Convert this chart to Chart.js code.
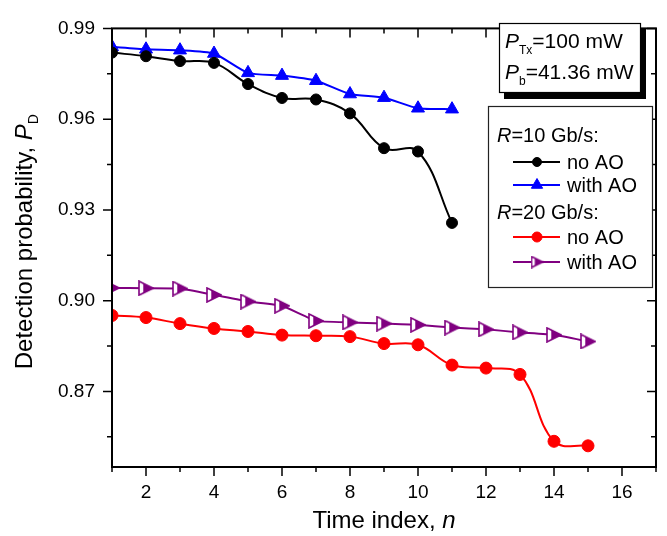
<!DOCTYPE html>
<html><head><meta charset="utf-8">
<script src="https://cdn.jsdelivr.net/npm/chart.js@4.4.1/dist/chart.umd.min.js"></script>
<style>html,body{margin:0;padding:0;background:#fff}canvas{display:block}</style>
</head><body>
<canvas id="c" width="667" height="536"></canvas>
<script>
// ---- data ----
const timeIndex10 = [1,2,3,4,5,6,7,8,9,10,11];
const timeIndex20 = [1,2,3,4,5,6,7,8,9,10,11,12,13,14,15];
const r10NoAO   = [0.9820,0.9808,0.9792,0.9786,0.9716,0.9670,0.9665,0.9619,0.9504,0.9493,0.9257];
const r10WithAO = [0.9839,0.9831,0.9828,0.9817,0.9753,0.9744,0.9727,0.9683,0.9671,0.9636,0.9633];
const r20NoAO   = [0.8951,0.8944,0.8924,0.8908,0.8898,0.8886,0.8884,0.8881,0.8858,0.8854,0.8787,0.8777,0.8756,0.8535,0.8520];
const r20WithAO = [0.9042,0.9041,0.9040,0.9019,0.8997,0.8983,0.8933,0.8928,0.8924,0.8920,0.8911,0.8905,0.8895,0.8887,0.8865];
const xTickLabels = [2,4,6,8,10,12,14,16];
const yTickLabels = [0.87,0.90,0.93,0.96,0.99];
const xRange = [1,17];
const yRange = [0.845,0.99];
const xTitle = ["Time index, ", "n"];
const yTitle = ["Detection probability, ", "P", "D"];
const infoLines = [["P","Tx","=100 mW"],["P","b","=41.36 mW"]];
const legendHeaders = ["10 Gb/s:", "20 Gb/s:"];
const seriesNames = ["no AO","with AO","no AO","with AO"];

const FONT = 'Arial, "Liberation Sans", sans-serif';
const BLACK='#000000', BLUE='#0000ff', RED='#ff0000', PURPLE='#800080';

function halfTri(size, color){
  const c=document.createElement('canvas'); c.width=c.height=size;
  const g=c.getContext('2d'); const m=1, s=size;
  g.beginPath(); g.moveTo(m,m); g.lineTo(m,s-m); g.lineTo(s-m,s/2); g.closePath();
  g.fillStyle='#fff'; g.fill();
  g.save(); g.clip(); g.fillStyle=color; g.fillRect(s*0.33,0,s,s); g.restore();
  g.strokeStyle=color; g.lineWidth=1.6; g.lineJoin='miter'; g.stroke();
  return c;
}
const purpleMarker = halfTri(16, PURPLE);
const purpleMarkerSmall = halfTri(13, PURPLE);

const pts = (xs, ys) => xs.map((x,i)=>({x, y:ys[i]}));

const datasets = [
  {label:seriesNames[0], data:pts(timeIndex10,r10NoAO), borderColor:BLACK, backgroundColor:BLACK,
   pointStyle:'circle', pointRadius:5.5, pointBorderWidth:1, tension:0.4, borderWidth:2},
  {label:seriesNames[1], data:pts(timeIndex10,r10WithAO), borderColor:BLUE, backgroundColor:BLUE,
   pointStyle:'triangle', pointRadius:7.5, pointBorderWidth:1, tension:0.2, borderWidth:2},
  {label:seriesNames[2], data:pts(timeIndex20,r20NoAO), borderColor:RED, backgroundColor:RED,
   pointStyle:'circle', pointRadius:6, pointBorderWidth:1, tension:0.4, borderWidth:2},
  {label:seriesNames[3], data:pts(timeIndex20,r20WithAO), borderColor:PURPLE, backgroundColor:PURPLE,
   pointStyle:purpleMarker, pointRadius:8, tension:0.1, borderWidth:2}
];
datasets.forEach(d=>{ d.clip=0; d.pointHoverRadius=d.pointRadius; });

function drawRich(ctx, parts, x, y, align){
  let w=0;
  parts.forEach(p=>{ ctx.font=`${p[1]} ${p[2]}px ${FONT}`; w+=ctx.measureText(p[0]).width; });
  let cx = align==='center' ? x-w/2 : x;
  parts.forEach(p=>{ ctx.font=`${p[1]} ${p[2]}px ${FONT}`; ctx.fillText(p[0], cx, y+(p[3]||0)); cx+=ctx.measureText(p[0]).width; });
}

const framePlugin = {
  id:'frame',
  afterDraw(chart){
    const {ctx, chartArea:a, scales:{x,y}} = chart;
    ctx.save();
    ctx.strokeStyle='#000'; ctx.fillStyle='#000';
    ctx.lineWidth=1.5;
    ctx.beginPath();
    for(let v=x.min; v<=x.max+1e-9; v+=1){
      const px=x.getPixelForValue(v); const L = (v%2===0)?9:5;
      ctx.moveTo(px,a.bottom); ctx.lineTo(px,a.bottom+L);
      ctx.moveTo(px,a.top); ctx.lineTo(px,a.top+L);
    }
    for(let k=0; ; k++){
      const v = 0.855 + k*0.015; if(v>y.max+1e-9) break;
      const major = (k%2===1);
      const py=y.getPixelForValue(v); const L = major?9:5;
      ctx.moveTo(a.left,py); ctx.lineTo(a.left-L,py);
      ctx.moveTo(a.right,py); ctx.lineTo(a.right-L,py);
    }
    ctx.stroke();
    ctx.lineWidth=2;
    ctx.strokeRect(a.left, a.top, a.right-a.left, a.bottom-a.top);

    ctx.textBaseline='alphabetic';
    drawRich(ctx, [[xTitle[0],'',24],[xTitle[1],'italic',24]], (a.left+a.right)/2, 528, 'center');
    ctx.save();
    ctx.translate(32, (a.top+a.bottom)/2 - 6); ctx.rotate(-Math.PI/2);
    drawRich(ctx, [[yTitle[0],'',24],[yTitle[1],'italic',24],[yTitle[2],'',14,6]], 0, 0, 'center');
    ctx.restore();

    // info box
    ctx.fillStyle='#000'; ctx.fillRect(504,28,142,71);
    ctx.fillStyle='#fff'; ctx.fillRect(499,23,142,70);
    ctx.lineWidth=1.2; ctx.strokeStyle='#000'; ctx.strokeRect(499.5,23.5,141,69);
    ctx.fillStyle='#000';
    drawRich(ctx, [[infoLines[0][0],'italic',21],[infoLines[0][1],'',12,6],[infoLines[0][2],'',21]], 505, 48, 'left');
    drawRich(ctx, [[infoLines[1][0],'italic',21],[infoLines[1][1],'',12,6],[infoLines[1][2],'',21]], 505, 79, 'left');

    // legend box
    ctx.fillStyle='#fff'; ctx.fillRect(488,106,165,182);
    ctx.strokeStyle='#222'; ctx.lineWidth=1.2; ctx.strokeRect(488.5,106.5,164,181);
    ctx.fillStyle='#000';
    drawRich(ctx, [['R','italic',20],['=' + legendHeaders[0],'',20]], 497, 142, 'left');
    drawRich(ctx, [['R','italic',20],['=' + legendHeaders[1],'',20]], 497, 219, 'left');
    const rows=[169,192,244,269];
    const lm=[{r:4.5},{r:6.5},{r:5},{r:0,img:purpleMarkerSmall}];
    datasets.forEach((d,i)=>{
      const yy=rows[i]-7;
      ctx.strokeStyle=d.borderColor; ctx.lineWidth=2;
      ctx.beginPath(); ctx.moveTo(513,yy); ctx.lineTo(560,yy); ctx.stroke();
      ctx.fillStyle=d.backgroundColor; ctx.strokeStyle=d.borderColor; ctx.lineWidth=1;
      Chart.helpers.drawPoint(ctx,{pointStyle: lm[i].img || d.pointStyle, radius: lm[i].r || 6, rotation:0, borderWidth:1}, 537, yy);
      ctx.fillStyle='#000';
      ctx.font=`20px ${FONT}`; ctx.fillText(d.label, 567, rows[i]);
    });
    ctx.restore();
  }
};

new Chart(document.getElementById('c'), {
  type:'line',
  data:{datasets},
  options:{
    responsive:false, animation:false,
    layout:{padding:{top:17,right:11,left:0,bottom:0}},
    plugins:{legend:{display:false}, tooltip:{enabled:false}},
    scales:{
      x:{type:'linear', min:xRange[0], max:xRange[1],
         grid:{display:false, drawTicks:false}, border:{display:false},
         afterBuildTicks:s=>{ s.ticks = xTickLabels.map(v=>({value:v})); },
         afterFit:s=>{ s.height=69; },
         ticks:{autoSkip:false, maxRotation:0, padding:14, color:'#000', font:{family:FONT,size:19},
                callback:v=>String(v)}},
      y:{type:'linear', min:yRange[0], max:yRange[1],
         grid:{display:false, drawTicks:false}, border:{display:false},
         afterBuildTicks:s=>{ s.ticks = yTickLabels.map(v=>({value:v})); },
         afterFit:s=>{ s.width=112; },
         ticks:{autoSkip:false, padding:17, color:'#000', font:{family:FONT,size:19},
                callback:v=>Number(v).toFixed(2)}}
    }
  },
  plugins:[framePlugin]
});
</script>
</body></html>
